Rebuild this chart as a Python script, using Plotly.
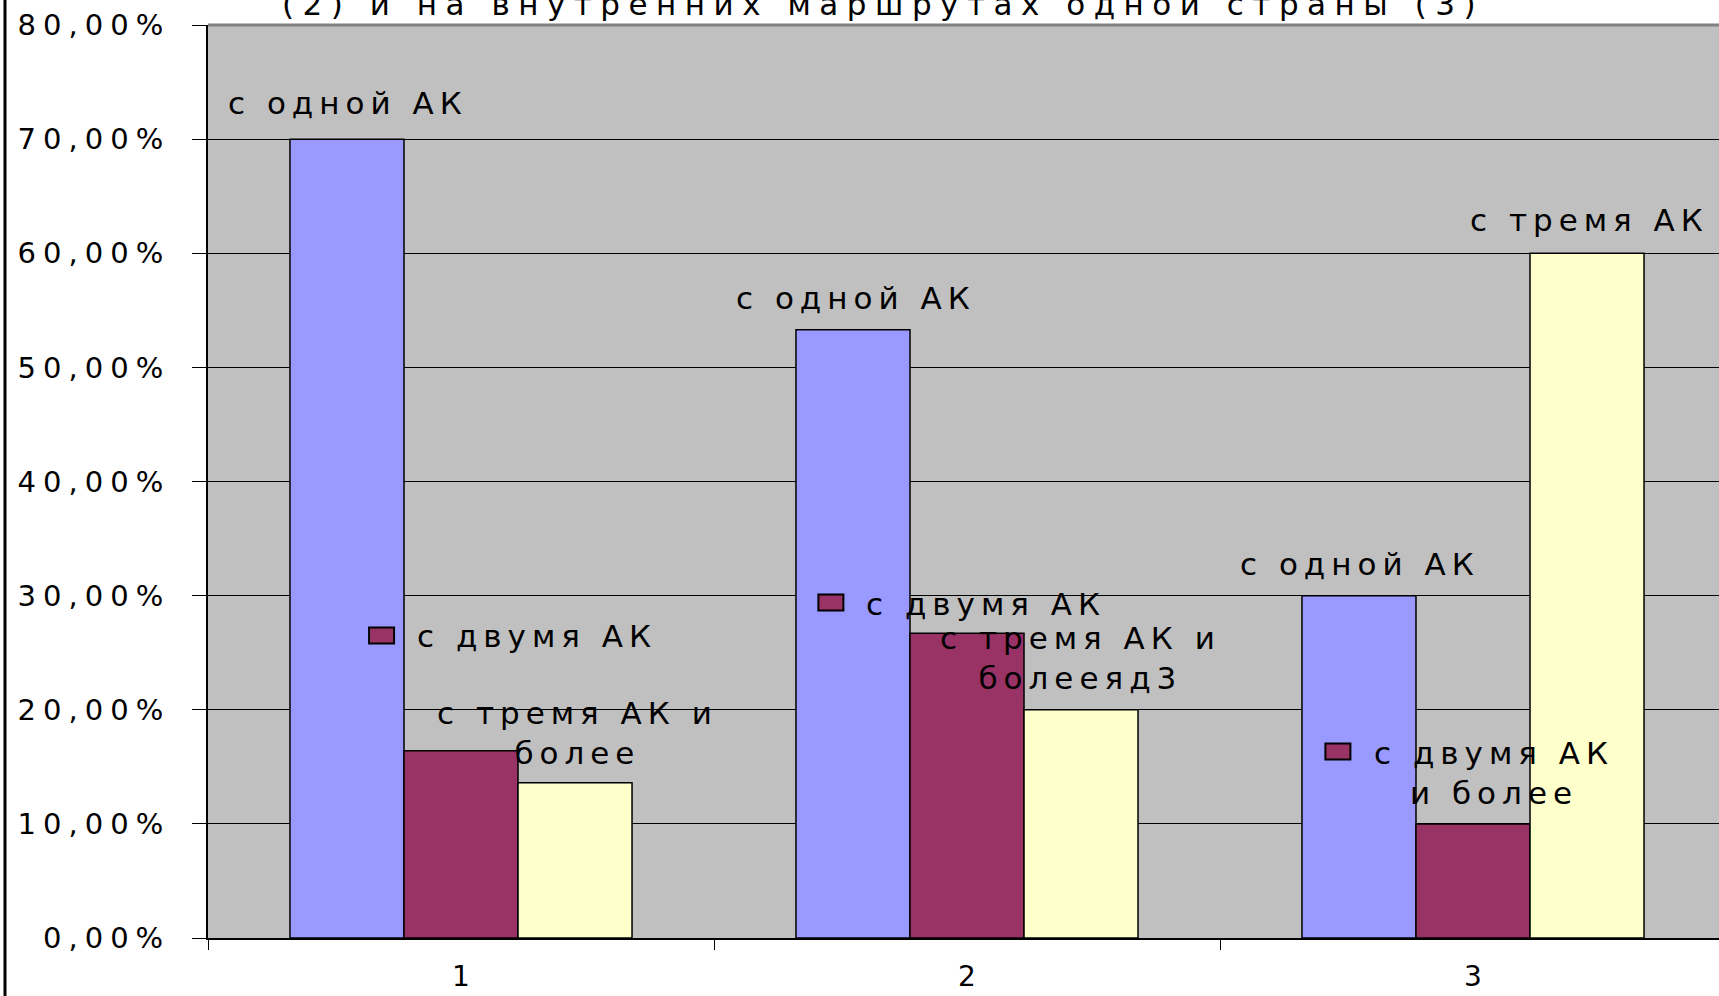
import plotly.graph_objects as go

# Categories and series values (share of routes, %)
categories = ["1", "2", "3"]
series_names = ["с одной АК", "с двумя АК", "с тремя АК и более"]
one_carrier = [70.0, 53.3, 30.0]
two_carriers = [16.4, 26.7, 10.0]
three_carriers = [13.6, 20.0, 60.0]

y_tick_values = [0, 10, 20, 30, 40, 50, 60, 70, 80]
y_tick_labels = ["0,00%", "10,00%", "20,00%", "30,00%", "40,00%",
                 "50,00%", "60,00%", "70,00%", "80,00%"]

title_text = "(2) и на внутренних маршрутах одной страны (3)"

# Series-name data labels, one per bar
label_texts = [
    ["с одной АК"], ["с двумя АК"], ["с тремя АК и", "более"],
    ["с одной АК"], ["с двумя АК"], ["с тремя АК и", "болееяд3"],
    ["с одной АК"], ["с двумя АК", "и более"], ["с тремя АК"],
]

# ---- styling -------------------------------------------------------------
FONT = "DejaVu Sans"
colors = ["#9999FF", "#993366", "#FFFFCC"]
W, H = 1719, 996
ML, MR, MT, MB = 208, 0, 25, 58
CAT_PX = 506.0
PLOT_W = W - ML - MR
PLOT_H = H - MT - MB
x_max = -0.5 + PLOT_W / CAT_PX


def spaced(txt, ls):
    return f'<span style="letter-spacing:{ls}px">{txt}</span>'


fig = go.Figure()
for name, vals, col in zip(series_names, [one_carrier, two_carriers, three_carriers], colors):
    fig.add_bar(x=categories, y=vals, name=name,
                marker=dict(color=col, line=dict(color="black", width=1.5)))

# label placement: (x in category units, y in % units, legend-key centre or None)
label_pos = [
    (-0.224, 73.2, None),
    (0.150, 26.5, (-0.157, 26.5)),
    (0.230, 18.0, None),
    (0.780, 56.1, None),
    (1.037, 29.3, (0.731, 29.4)),
    (1.225, 24.5, None),
    (1.776, 32.8, None),
    (2.042, 14.5, (1.733, 16.35)),
    (2.230, 62.9, None),
]

key_w = 25 / CAT_PX
key_h = 16 / (PLOT_H / 80.0)

annotations = []
shapes = []
for (lx, ly, key), lines in zip(label_pos, label_texts):
    annotations.append(dict(
        x=lx, y=ly, xref="x", yref="y", showarrow=False,
        xanchor="center", yanchor="middle", align="center",
        text="<br>".join(spaced(t, 6) for t in lines),
        font=dict(family=FONT, size=31, color="black"),
    ))
    if key is not None:
        kx, ky = key
        shapes.append(dict(type="rect", xref="x", yref="y",
                           x0=kx - key_w / 2, x1=kx + key_w / 2,
                           y0=ky - key_h / 2, y1=ky + key_h / 2,
                           fillcolor=colors[1], line=dict(color="black", width=2),
                           layer="above"))

# chart title, running off the top of the page
annotations.append(dict(
    x=(883 - ML) / PLOT_W, y=1 + 1 / PLOT_H, xref="paper", yref="paper",
    showarrow=False, xanchor="center", yanchor="bottom",
    text=spaced(title_text, 8.5), font=dict(family=FONT, size=31, color="black"),
))

# top plot border and outer chart border
shapes.append(dict(type="line", xref="paper", yref="paper", x0=0, x1=1, y0=1, y1=1,
                   line=dict(color="#808080", width=3), layer="above"))
shapes.append(dict(type="line", xref="paper", yref="paper",
                   x0=(5 - ML) / PLOT_W, x1=(5 - ML) / PLOT_W, y0=-0.2, y1=1.2,
                   line=dict(color="black", width=3), layer="above"))

fig.update_layout(
    width=W, height=H,
    margin=dict(l=ML, r=MR, t=MT, b=MB, pad=0),
    paper_bgcolor="white", plot_bgcolor="#C0C0C0",
    barmode="group", bargap=0.324, bargroupgap=0,
    showlegend=False,
    annotations=annotations, shapes=shapes,
    xaxis=dict(type="category", range=[-0.5, x_max], tickson="boundaries",
               ticks="outside", ticklen=10, tickcolor="black", tickwidth=1,
               showline=True, linecolor="black", linewidth=2,
               showgrid=False, ticklabelstandoff=12, automargin=False,
               tickfont=dict(family=FONT, size=28, color="black")),
    yaxis=dict(range=[0, 80], tickvals=y_tick_values,
               ticktext=[spaced(t, 7) for t in y_tick_labels],
               ticks="outside", ticklen=14, tickcolor="black", tickwidth=1,
               showline=True, linecolor="black", linewidth=2,
               showgrid=True, gridcolor="black", gridwidth=1, zeroline=False,
               ticklabelstandoff=16, automargin=False,
               tickfont=dict(family=FONT, size=29, color="black")),
)

fig.write_html("out.html")
